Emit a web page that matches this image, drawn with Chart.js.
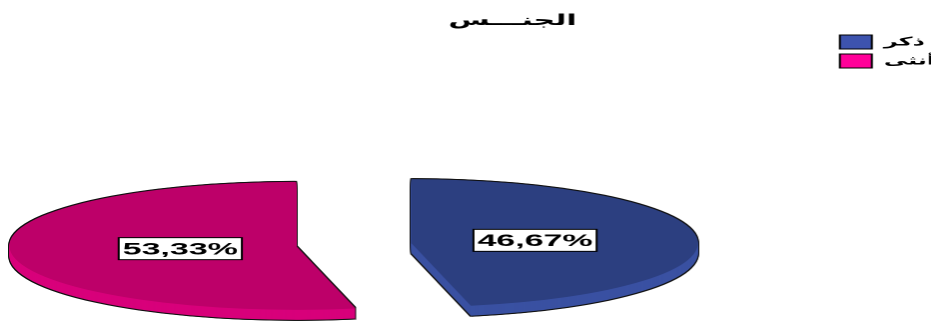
<!DOCTYPE html>
<html>
<head>
<meta charset="utf-8">
<script src="https://cdn.jsdelivr.net/npm/chart.js@4.4.0/dist/chart.umd.min.js"></script>
<style>
  html, body { margin: 0; padding: 0; background: #fff; overflow: hidden; }
  /* the chart is laid out narrow and stretched sideways */
  #wrap { width: 466px; height: 324px; transform: scaleX(1.998); transform-origin: 0 0; }
</style>
</head>
<body>
<div id="wrap"><canvas id="genderChart" width="466" height="324"></canvas></div>
<script>
const chartTitle = 'الجنـــس';
const labels = ['ذكر', 'أنثى'];
const values = [46.67, 53.33];
const topColors = ['#2c3f80', '#bd0069'];
const rimColors = ['#3a51a2', '#d8007b'];
const legendColors = ['#3d53ae', '#ff0099'];

const FONT = "'Liberation Sans', Arial, 'DejaVu Sans', sans-serif";

const fmtPercent = v => v.toFixed(2).replace('.', ',') + '%';

// draw an arc element with another fill, no border, no offset
function paintArc(ctx, arc, color) {
    const copy = Object.assign(Object.create(Object.getPrototypeOf(arc)), arc);
    copy.options = {
        backgroundColor: color, borderColor: color, borderWidth: 0, offset: 0,
        spacing: 0, circular: true, borderRadius: 0, borderAlign: 'center', borderJoinStyle: 'round'
    };
    copy.draw(ctx);
}

// flattened pie with a thick rim, slices pulled apart sideways
const pie3d = {
    id: 'pie3d',
    beforeDatasetsDraw(chart, args, opts) {
        const ctx = chart.ctx;
        const arcs = chart.getDatasetMeta(0).data;
        arcs.forEach((arc, i) => {
            const half = (arc.startAngle + arc.endAngle) / 2;
            const ox = opts.x + Math.cos(half) * opts.explode;
            const oy = opts.y + Math.sin(half) * opts.explode * opts.tilt;
            const layer = (dx, dy, color) => {
                ctx.save();
                ctx.translate(ox + dx, oy + dy);
                ctx.scale(1, opts.tilt);
                ctx.translate(-arc.x, -arc.y);
                paintArc(ctx, arc, color);
                ctx.restore();
            };
            for (let t = -1; t <= opts.depth + 1; t++) {
                layer(-0.5, t, opts.edge);
                layer(0.5, t, opts.edge);
            }
            for (let t = opts.depth; t > 0; t--) layer(0, t, rimColors[i]);
            layer(0, 0, topColors[i]);
        });
        return false;
    },
    afterDraw(chart, args, opts) {
        const ctx = chart.ctx;
        const arcs = chart.getDatasetMeta(0).data;
        ctx.save();
        ctx.font = 'bold 17px ' + FONT;
        ctx.textAlign = 'center';
        ctx.textBaseline = 'middle';
        arcs.forEach((arc, i) => {
            const half = (arc.startAngle + arc.endAngle) / 2;
            const r = arc.outerRadius * opts.labelRatio + opts.explode;
            const x = opts.x + Math.cos(half) * r + opts.labelShift;
            const y = opts.y + Math.sin(half) * r * opts.tilt;
            const text = fmtPercent(values[i]);
            const w = ctx.measureText(text).width + 4;
            const h = 22;
            ctx.fillStyle = '#fff';
            ctx.fillRect(x - w / 2, y - h / 2, w, h);
            ctx.strokeStyle = '#000';
            ctx.lineWidth = 1;
            ctx.strokeRect(x - w / 2, y - h / 2, w, h);
            ctx.fillStyle = '#000';
            ctx.fillText(text, x, y + 1);
        });
        ctx.restore();
    }
};

new Chart(document.getElementById('genderChart'), {
    type: 'pie',
    data: {
        labels: labels,
        datasets: [{
            data: values,
            backgroundColor: topColors,
            borderWidth: 0,
            radius: 143.5
        }]
    },
    options: {
        responsive: false,
        devicePixelRatio: 2,
        animation: false,
        layout: { padding: { left: 35, right: -12 } },
        plugins: {
            title: {
                display: true,
                text: chartTitle,
                color: '#000',
                font: { family: FONT, size: 15, weight: 'bold' },
                padding: { top: 12, bottom: 0 }
            },
            legend: {
                position: 'right',
                align: 'start',
                fullSize: false,
                labels: {
                    boxWidth: 16,
                    boxHeight: 14,
                    padding: 5,
                    color: '#000',
                    font: { family: FONT, size: 12, weight: 'bold' },
                    generateLabels: () => labels.map((text, i) => ({
                        text: text,
                        fillStyle: legendColors[i],
                        strokeStyle: '#000',
                        lineWidth: 1,
                        fontColor: '#000',
                        hidden: false,
                        index: i
                    }))
                }
            },
            tooltip: { enabled: false },
            pie3d: { x: 177, y: 244.5, tilt: 0.446, depth: 10, explode: 29, labelRatio: 0.42, labelShift: 2, edge: '#111' }
        }
    },
    plugins: [pie3d]
});
</script>
</body>
</html>
